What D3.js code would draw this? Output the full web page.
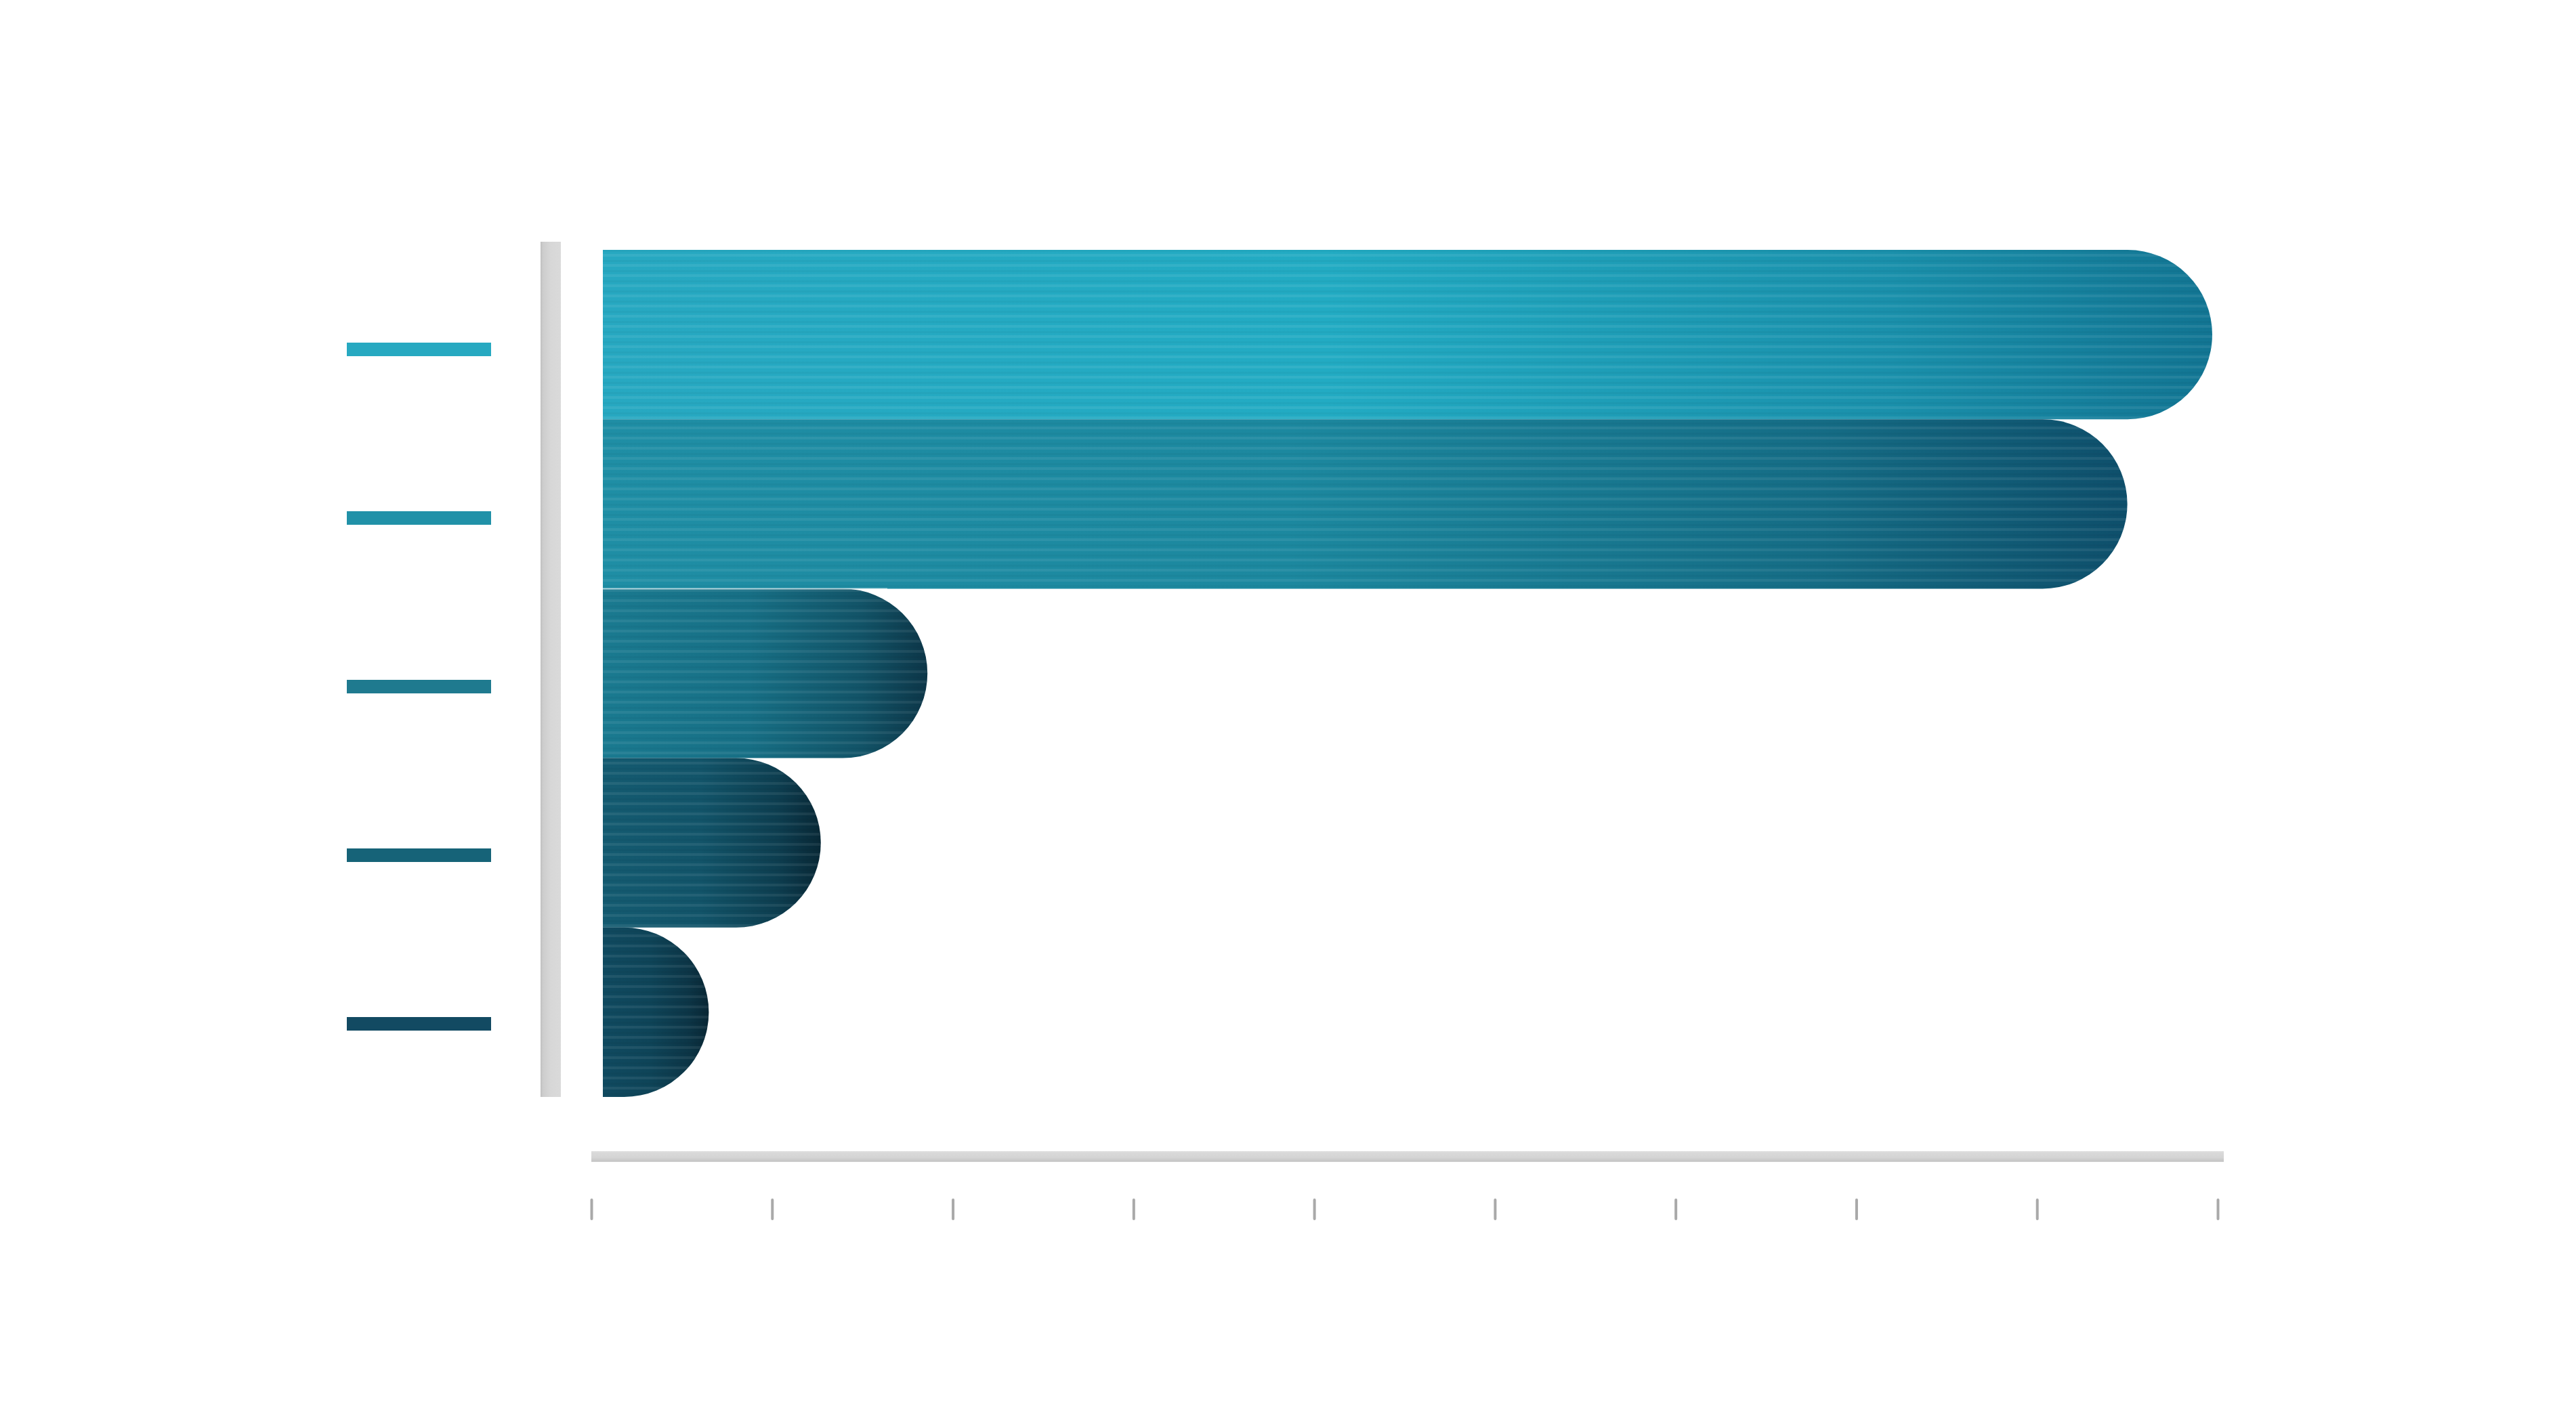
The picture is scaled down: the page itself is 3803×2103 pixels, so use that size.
<!DOCTYPE html>
<html>
<head>
<meta charset="utf-8">
<script src="https://cdn.jsdelivr.net/npm/d3@7"></script>
<style>
  html, body { margin: 0; padding: 0; background: #ffffff; }
  svg { display: block; }
</style>
</head>
<body>
<script>
// ---- data ----
const categories = ["A", "B", "C", "D", "E"];
const values = [8.97, 8.5, 1.86, 1.27, 0.65];
const tickValues = [0, 1, 2, 3, 4, 5, 6, 7, 8, 9];
const startColors = ["#27a8c1", "#1f8ea5", "#1a7a90", "#145b71", "#104a60"];
const midColors   = ["#22abc3", "#1c889f", "#176f85", "#125469", "#0e4458"];
const endColors   = ["#127593", "#0e4f6b", "#0c3648", "#082836", "#092735"];
const markColors  = ["#27a9c1", "#2191a8", "#1f7a8f", "#166378", "#124a62"];

// ---- layout ----
const W = 3803, H = 2103;
const svg = d3.select("body").append("svg").attr("width", W).attr("height", H);
const defs = svg.append("defs");

const x = d3.scaleLinear().domain([0, 9]).range([873, 3274]);
const y = d3.scaleBand().domain(categories).range([369, 1620]).padding(0);
const yMark = d3.scalePoint().domain(categories).range([516, 1512]);
const barStart = x(0) + 17;

// gradients per bar
categories.forEach((c, i) => {
  const g = defs.append("linearGradient").attr("id", "bg" + i)
    .attr("x1", 0).attr("y1", 0).attr("x2", 1).attr("y2", 0);
  g.append("stop").attr("offset", 0).attr("stop-color", startColors[i]);
  g.append("stop").attr("offset", 0.45).attr("stop-color", midColors[i]);
  g.append("stop").attr("offset", 0.8).attr("stop-color", d3.interpolateRgb(midColors[i], endColors[i])(0.5));
  g.append("stop").attr("offset", 1).attr("stop-color", endColors[i]);
});

// stripe pattern
const pat = defs.append("pattern").attr("id", "stripes")
  .attr("patternUnits", "userSpaceOnUse").attr("width", 20).attr("height", 15);
pat.append("rect").attr("x", 0).attr("y", 0).attr("width", 20).attr("height", 4)
  .attr("fill", "#ffffff").attr("fill-opacity", 0.07);
pat.append("rect").attr("x", 0).attr("y", 9).attr("width", 20).attr("height", 3)
  .attr("fill", "#000000").attr("fill-opacity", 0.03);

// gray bars gradients
const vg = defs.append("linearGradient").attr("id", "vgray")
  .attr("x1", 0).attr("y1", 0).attr("x2", 1).attr("y2", 0);
vg.append("stop").attr("offset", 0).attr("stop-color", "#bfbfbf");
vg.append("stop").attr("offset", 0.12).attr("stop-color", "#cdcdcd");
vg.append("stop").attr("offset", 0.5).attr("stop-color", "#d7d7d7");
vg.append("stop").attr("offset", 1).attr("stop-color", "#dadada");

const hg = defs.append("linearGradient").attr("id", "hgray")
  .attr("x1", 0).attr("y1", 0).attr("x2", 0).attr("y2", 1);
hg.append("stop").attr("offset", 0).attr("stop-color", "#e2e2e2");
hg.append("stop").attr("offset", 0.15).attr("stop-color", "#d9d9d9");
hg.append("stop").attr("offset", 0.6).attr("stop-color", "#d4d4d4");
hg.append("stop").attr("offset", 0.9).attr("stop-color", "#c6c6c6");
hg.append("stop").attr("offset", 1).attr("stop-color", "#d0d0d0");

// vertical gray bar (y axis line)
svg.append("rect")
  .attr("x", 798).attr("y", y.range()[0] - 12)
  .attr("width", 30).attr("height", y.range()[1] - y.range()[0] + 12)
  .attr("fill", "url(#vgray)");

// horizontal gray bar (x axis line)
svg.append("rect")
  .attr("x", x(0)).attr("y", 1700)
  .attr("width", x(9) + 9 - x(0)).attr("height", 16)
  .attr("fill", "url(#hgray)");

// category marks on the left
svg.append("g").selectAll("rect").data(categories).join("rect")
  .attr("x", 512).attr("width", 213)
  .attr("y", d => yMark(d) - 10).attr("height", 20)
  .attr("fill", (d, i) => markColors[i]);

// bars
function barPath(v, c) {
  const y0 = y(c), h = y.bandwidth(), r = h / 2;
  const x1 = x(v);
  const xr = Math.max(barStart, x1 - r);
  return `M${barStart},${y0} H${xr} A${r},${r} 0 0 1 ${xr},${y0 + h} H${barStart} Z`;
}
const bars = svg.append("g");
bars.selectAll("path.bar").data(values).join("path")
  .attr("class", "bar")
  .attr("d", (v, i) => barPath(v, categories[i]))
  .attr("fill", (v, i) => `url(#bg${i})`);
bars.selectAll("path.stripe").data(values).join("path")
  .attr("class", "stripe")
  .attr("d", (v, i) => barPath(v, categories[i]))
  .attr("fill", "url(#stripes)");

// thin light separator between bar B and C
svg.append("line")
  .attr("x1", barStart).attr("x2", barStart + 420)
  .attr("y1", y("C")).attr("y2", y("C"))
  .attr("stroke", "#ffffff").attr("stroke-opacity", 0.6).attr("stroke-width", 2);

// x axis ticks
const axis = d3.axisBottom(x).tickValues(tickValues).tickSize(28).tickFormat("");
const ag = svg.append("g").attr("transform", "translate(0,1772)").call(axis);
ag.select(".domain").remove();
ag.selectAll(".tick line")
  .attr("stroke", "#a9a9a9").attr("stroke-width", 4).attr("stroke-linecap", "round");
</script>
</body>
</html>
